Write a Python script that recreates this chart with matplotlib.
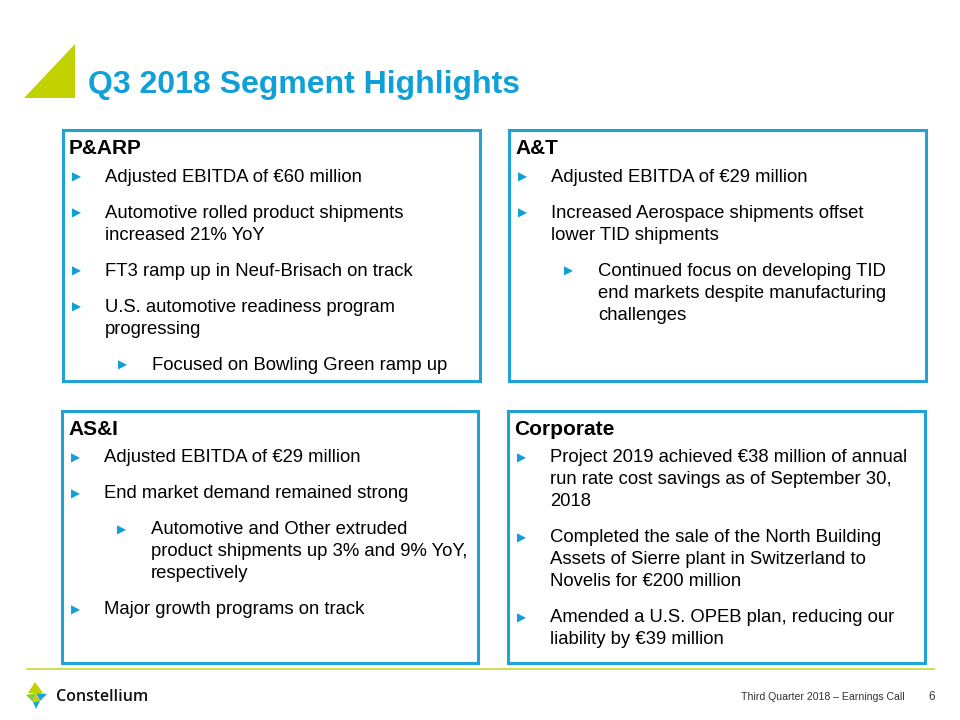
import matplotlib
matplotlib.use("Agg")
import matplotlib.pyplot as plt
from matplotlib.patches import Rectangle, Polygon

# ---- content ----
title = "Q3 2018 Segment Highlights"
footer_text = "Third Quarter 2018 \u2013 Earnings Call"
page_number = "6"
logo_text = "Constellium"

panel_titles = ["P&ARP", "A&T", "AS&I", "Corporate"]
# each bullet: (level, [lines])
panel_pa = [
    (1, ["Adjusted EBITDA of \u20ac60 million"]),
    (1, ["Automotive rolled product shipments", "increased 21% YoY"]),
    (1, ["FT3 ramp up in Neuf-Brisach on track"]),
    (1, ["U.S. automotive readiness program", "progressing"]),
    (2, ["Focused on Bowling Green ramp up"]),
]
panel_at = [
    (1, ["Adjusted EBITDA of \u20ac29 million"]),
    (1, ["Increased Aerospace shipments offset", "lower TID shipments"]),
    (2, ["Continued focus on developing TID", "end markets despite manufacturing", "challenges"]),
]
panel_asi = [
    (1, ["Adjusted EBITDA of \u20ac29 million"]),
    (1, ["End market demand remained strong"]),
    (2, ["Automotive and Other extruded", "product shipments up 3% and 9% YoY,", "respectively"]),
    (1, ["Major growth programs on track"]),
]
panel_corp = [
    (1, ["Project 2019 achieved \u20ac38 million of annual", "run rate cost savings as of September 30,", "2018"]),
    (1, ["Completed the sale of the North Building", "Assets of Sierre plant in Switzerland to", "Novelis for \u20ac200 million"]),
    (1, ["Amended a U.S. OPEB plan, reducing our", "liability by \u20ac39 million"]),
]
panel_bullets = [panel_pa, panel_at, panel_asi, panel_corp]

# ---- style ----
BLUE = "#0FA0D8"
BORDER = "#22A3D8"
LIME = "#C2D200"
TXT = "#000000"
FONT = ["Liberation Sans", "DejaVu Sans"]

fig = plt.figure(figsize=(9.6, 7.2), dpi=100)
ax = fig.add_axes([0, 0, 1, 1])
ax.set_xlim(0, 960)
ax.set_ylim(720, 0)
ax.axis("off")

# title triangle
ax.add_patch(Polygon([(24, 98), (75, 44), (75, 98)], closed=True,
                     facecolor=LIME, edgecolor="none"))
ax.text(88, 93, title, fontsize=23, fontweight="bold", color=BLUE,
        family=FONT, va="baseline", ha="left")

# panels: (x0, y0, x1, y1)
boxes = [(63, 130, 480, 381), (509, 130, 926, 381),
         (62, 411, 478, 663), (508, 411, 925, 663)]

for (x0, y0, x1, y1), head, bullets in zip(boxes, panel_titles, panel_bullets):
    ax.add_patch(Rectangle((x0, y0), x1 - x0, y1 - y0, facecolor="none",
                           edgecolor=BORDER, linewidth=2.2))
    ax.text(x0 + 6, y0 + 24, head, fontsize=15, fontweight="bold", color=TXT,
            family=FONT, va="baseline", ha="left")
    y = y0 + 45
    for level, lines in bullets:
        if level == 1:
            mx, tx = x0 + 9, x0 + 42
        else:
            mx, tx = x0 + 55, x0 + 89
        ax.text(mx, y + 2.5, "\u25b6", fontsize=8.5, color=BLUE,
                family=["DejaVu Sans"], va="center", ha="left")
        for i, line in enumerate(lines):
            ax.text(tx, y + 6.5 + 22 * i, line, fontsize=13.3, color=TXT,
                    family=FONT, va="baseline", ha="left")
        y += 22 * (len(lines) - 1) + 36

# footer rule
ax.plot([26, 935], [669, 669], color="#C9D640", linewidth=1.2,
        solid_capstyle="butt")

# logo
ax.add_patch(Polygon([(35, 682), (28, 693), (43, 693)], facecolor=LIME, edgecolor="none"))
ax.add_patch(Polygon([(26, 695), (36, 693), (33, 702)], facecolor="#8DC63F", edgecolor="none"))
ax.add_patch(Polygon([(36, 693), (47, 694), (40, 701)], facecolor="#1FA3DB", edgecolor="none"))
ax.add_patch(Polygon([(36, 693), (40, 701), (33, 702)], facecolor=LIME, edgecolor="none"))
ax.add_patch(Polygon([(33, 702), (40, 701), (36, 709)], facecolor="#1FA3DB", edgecolor="none"))
ax.text(56, 701, logo_text, fontsize=11.5, color="#111111", fontweight="semibold",
        family=["Open Sans", "DejaVu Sans"], va="baseline", ha="left")

ax.text(905, 700, footer_text, fontsize=7.6, color="#333333",
        family=FONT, va="baseline", ha="right")
ax.text(935, 700, page_number, fontsize=8.5, color="#333333",
        family=FONT, va="baseline", ha="right")

fig.savefig("out.png", dpi=100)
